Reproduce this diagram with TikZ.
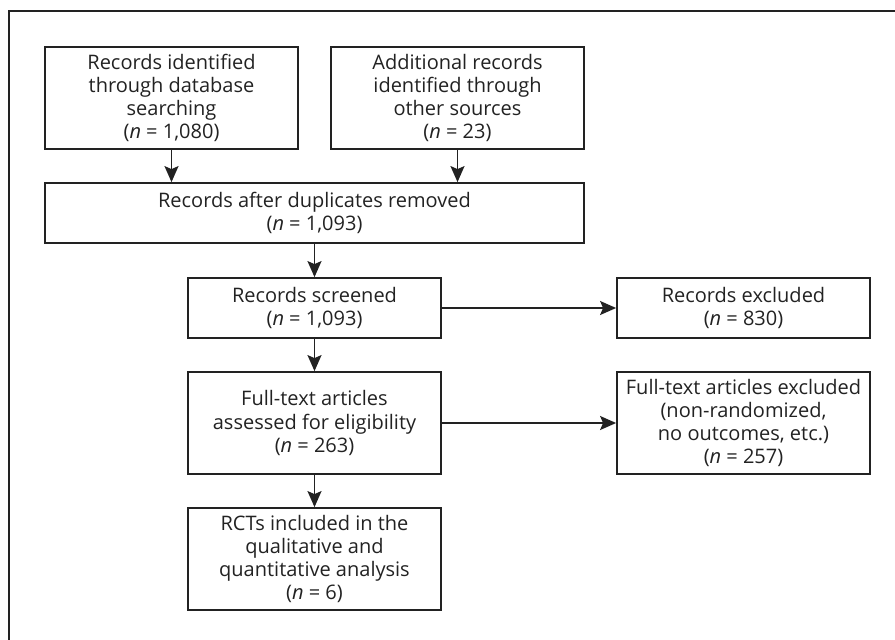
\documentclass[tikz,border=0pt]{standalone}
\usepackage{fontspec}
\setmainfont{Open Sans}
\usetikzlibrary{arrows.meta}
\definecolor{ink}{HTML}{222222}
\begin{document}
\begin{tikzpicture}[x=1pt,y=-1pt,
  box/.style={draw=ink, line width=1.8pt, text=ink, align=center, inner sep=0pt,
    font=\fontsize{20}{23.2}\selectfont},
  arr/.style={draw=ink, line width=1.8pt, -{Stealth[length=16pt,width=14pt,inset=3pt]}}]
\useasboundingbox (0,0) rectangle (895,640);
\draw[line width=1.2pt, ink] (895,11) -- (9,11) -- (9,640);
\node[box, minimum width=253pt, minimum height=102pt] (a) at (171.5,98)
  {Records identified\\through database\\searching\\(\textit{n} = 1,080)};
\node[box, minimum width=253pt, minimum height=102pt] (b) at (457.5,98)
  {Additional records\\identified through\\other sources\\(\textit{n} = 23)};
\node[box, minimum width=539pt, minimum height=60pt] (c) at (314.5,213)
  {Records after duplicates removed\\(\textit{n} = 1,093)};
\node[box, minimum width=253pt, minimum height=60pt] (d) at (314.5,308)
  {Records screened\\(\textit{n} = 1,093)};
\node[box, minimum width=253pt, minimum height=102pt] (e) at (314.5,423)
  {Full-text articles\\assessed for eligibility\\(\textit{n} = 263)};
\node[box, minimum width=253pt, minimum height=102pt] (f) at (314.5,559)
  {RCTs included in the\\qualitative and\\quantitative analysis\\(\textit{n} = 6)};
\node[box, minimum width=253pt, minimum height=60pt] (g) at (743.5,308)
  {Records excluded\\(\textit{n} = 830)};
\node[box, minimum width=253pt, minimum height=102pt] (h) at (743.5,423)
  {Full-text articles excluded\\(non-randomized,\\no outcomes, etc.)\\(\textit{n} = 257)};
\draw[arr] (a.south) -- (a.south |- c.north);
\draw[arr] (b.south) -- (b.south |- c.north);
\draw[arr] (c.south) -- (d.north);
\draw[arr] (d.south) -- (e.north);
\draw[arr] (e.south) -- (f.north);
\draw[arr] (d.east) -- (g.west);
\draw[arr] (e.east) -- (h.west);
\end{tikzpicture}
\end{document}
